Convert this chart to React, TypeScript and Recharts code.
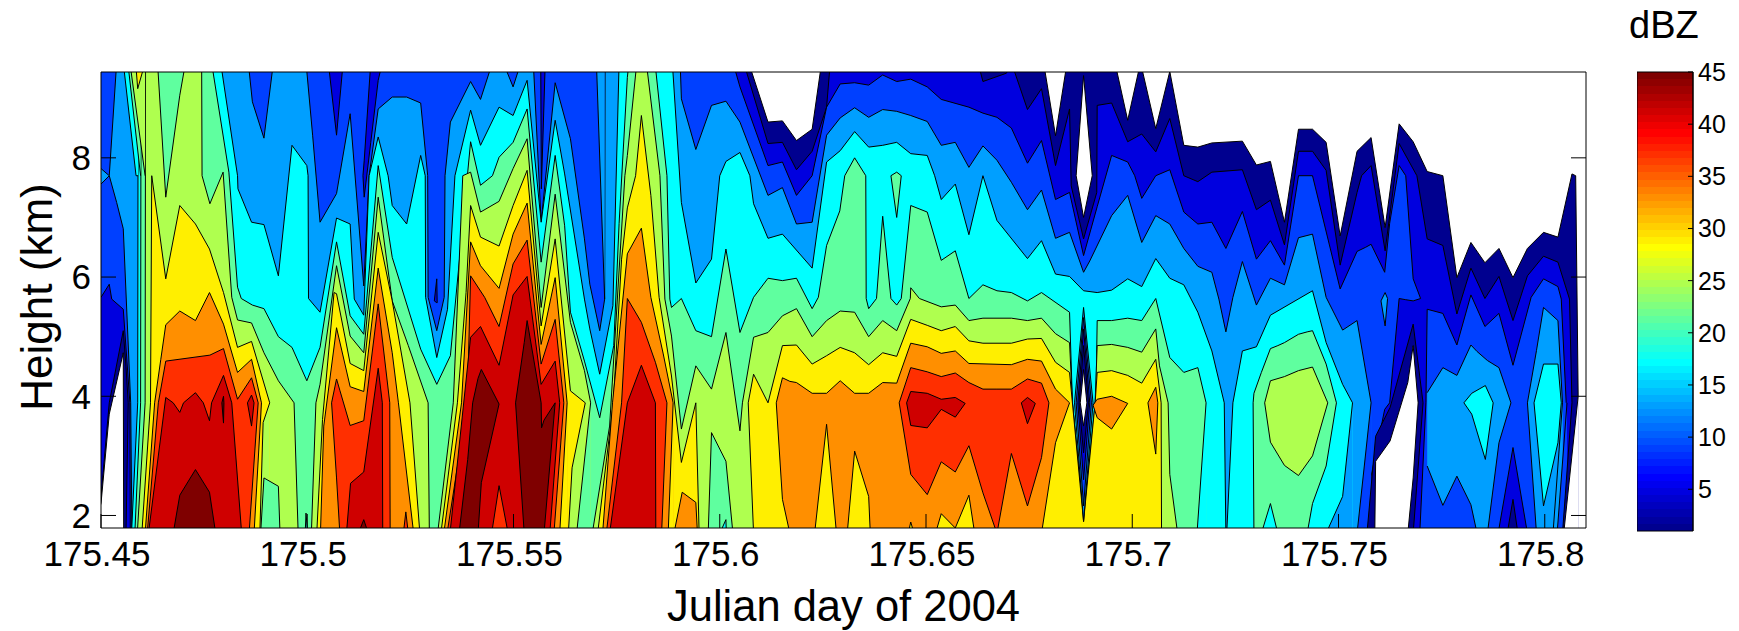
import { Area, Bar, BarChart, ComposedChart, Label, XAxis, YAxis } from "recharts";

// Reflectivity contour bands. Each node: [millidays after 175.45, top km, bottom km].
// Bottom defaults to below the axis. Painted low to high, then the "dips" high to low.
type Node = [number, number, number?];

const T = 9.6;
const B = 1.7;

const bandColors = ["#00008f", "#0000df", "#0040ff", "#009fff", "#00ffff", "#5fff9f", "#afff4f", "#ffef00", "#ff8f00", "#ff2f00", "#cf0000", "#7f0000"];
const noEcho = "#ffffff";

const xTicks = [175.45, 175.5, 175.55, 175.6, 175.65, 175.7, 175.75, 175.8];
const yTicks = [2, 4, 6, 8];
const dbzTicks = [5, 10, 15, 20, 25, 30, 35, 40, 45];
const colorbarRange = [{ name: "dBZ", range: [1, 45] }];

const jet = [
  "#00008f", "#00009f", "#0000af", "#0000bf", "#0000cf", "#0000df", "#0000ef", "#0000ff",
  "#000fff", "#001fff", "#002fff", "#003fff", "#004fff", "#005fff", "#006fff", "#007fff",
  "#008fff", "#009fff", "#00afff", "#00bfff", "#00cfff", "#00dfff", "#00efff", "#00ffff",
  "#0fffef", "#1fffdf", "#2fffcf", "#3fffbf", "#4fffaf", "#5fff9f", "#6fff8f", "#7fff7f",
  "#8fff6f", "#9fff5f", "#afff4f", "#bfff3f", "#cfff2f", "#dfff1f", "#efff0f", "#ffff00",
  "#ffef00", "#ffdf00", "#ffcf00", "#ffbf00", "#ffaf00", "#ff9f00", "#ff8f00", "#ff7f00",
  "#ff6f00", "#ff5f00", "#ff4f00", "#ff3f00", "#ff2f00", "#ff1f00", "#ff0f00", "#ff0000",
  "#ef0000", "#df0000", "#cf0000", "#bf0000", "#af0000", "#9f0000", "#8f0000", "#7f0000",
];

const l0Main: Node[] = [[-1.5, T], [157, T], [161.7, 8.6], [165.2, 8.62], [168.6, 8.29], [172.4, 8.48], [174.7, T], [228.5, T], [231.4, 8.37], [234.2, T], [245.8, T], [248.9, 8.63], [252, T], [255.7, 8.49], [259.1, 9.45], [262.5, 8.21], [265.9, 8.18], [269.3, 8.25], [276.7, 8.28], [280.1, 7.88], [283.5, 7.94], [286.9, 6.92], [290.3, 8.48], [293.7, 8.48], [297, 8.26], [300.4, 6.69], [304.5, 8.11], [307.9, 8.34], [311.3, 6.83], [314.7, 8.57], [318.1, 8.27], [321.5, 7.77], [325.3, 7.7], [328.7, 5.99], [332.1, 6.58], [335.5, 6.24], [338.9, 6.48], [342.3, 5.99], [345.8, 6.48], [349.7, 6.75], [353.2, 6.67], [356.6, 7.73], [357.5, 7.7], [358.1, 4.0]];

const l1Main: Node[] = [[-1.5, T], [155.8, T], [161.7, 8.24], [165.2, 8.26], [168.6, 7.8], [172.4, 8.11], [175.9, 8.85], [176.8, T], [212.6, T], [213.8, 9.28], [219.5, 9.42], [220.7, T], [224.6, 8.81], [228, 9.16], [231.4, 7.87], [234.8, 8.82], [235.2, 7.53], [238.2, 6.64], [241.4, 7.42], [241.5, 8.88], [245, 8.92], [248.9, 8.27], [252.3, 8.4], [255.7, 8.1], [259.1, 8.66], [262.5, 7.7], [265.9, 7.6], [269.3, 7.76], [276.7, 7.8], [280.1, 7.13], [283.5, 7.29], [286.9, 6.54], [290.3, 8.11], [293.7, 8.11], [297, 7.79], [300.4, 6.2], [304.5, 7.42], [305.6, 7.7], [307.9, 7.87], [311.3, 6.44], [314.7, 8.24], [319, 7.7], [321.5, 6.64], [325.3, 6.53], [328.7, 5.38], [332.1, 6.15], [335.5, 5.64], [338.9, 6.01], [342.3, 5.27], [345.8, 6.02], [349.7, 6.35], [353.2, 6.25], [356, 5.63], [356.6, 3.89]];

const l2Main: Node[] = [[-1.5, T, 5.66], [0, T, 5.66], [2, T, 5.88], [2.6, T, 5.63], [5.4, T, 5.46], [7, T, 3.89], [7.1, T], [153.2, T], [154.9, 9.19], [161.7, 7.87], [165.2, 7.93], [168.6, 7.37], [172.4, 7.7], [175.9, 8.85], [179.2, 9.24], [182.7, 9.26], [186.1, 9.22], [189.5, 9.39], [192.9, 9.28], [196.3, 9.32], [200.3, 9.19], [203.7, 8.98], [210.4, 8.85], [213.8, 8.75], [217.2, 8.68], [220.7, 8.5], [224.6, 7.91], [228, 8.29], [231.4, 7.3], [234.8, 7.42], [238.2, 6.36], [241.5, 7.18], [245, 8.04], [248.9, 7.93], [250.6, 7.7], [252.3, 7.32], [255.7, 7.7], [259.1, 7.8], [262.5, 7.09], [265.9, 6.89], [269.3, 6.92], [272.7, 6.48], [276.7, 7.1], [280.1, 6.3], [283.5, 6.61], [286.9, 6.2], [290.3, 7.7], [293.7, 7.7], [300.4, 5.8], [304.5, 6.43], [306.6, 6.5], [307.9, 6.55, 2.66], [311.2, 6.08, 3.78], [312.4, 6.9, 3.89], [314.7, 7.87, 5.64], [316.3, 7.7, 5.62], [318.1, 5.97, 5.6], [319.9, 5.64, 5.64]];
const l2Right: Node[] = [[319.7, B], [321.2, 3.9], [321.5, 5.46], [325.3, 5.39], [328.7, 4.86], [332.1, 5.7], [335.5, 5.17], [338.9, 5.39], [342.3, 4.52], [346.7, 5.66], [349.7, 5.97], [353.2, 5.84], [354, 5.63], [355.2, 3.89]];

const l3Corner: Node[] = [[-1.5, 7.75, 7.6], [0, 7.82, 7.56], [2, 7.7, 7.7]];
const l3Main: Node[] = [[2, 7.7, 7.7], [3.8, T, 7.25], [5.4, T, 6.81], [7.2, T, 3.89], [7.5, T], [35.7, T], [36.7, 8.94], [39.5, 8.33], [41.8, T], [49.7, T], [51.3, 8.38], [53.1, 6.92], [57.1, 7.4], [60.4, 8.74], [63.7, 5.85], [65, 7.7], [67.2, 8.82], [70.6, 9.02], [74.1, 9.02], [77.5, 8.92], [79.2, 7.7], [79.3, 5.66], [81.4, 5.1], [83.2, 5.66], [83.4, 7.7], [84.7, 8.6], [89.6, 9.28], [92, 8.98], [94.9, T], [97.5, T], [99.9, 9.19], [101.8, T], [104.8, T], [106.7, 6.92], [110.1, 9.26], [113.8, 8.32], [117.2, 6.64], [118.5, 5.88], [120.9, 5.1], [122.1, 5.63], [122.2, T], [140.4, T], [140.7, 8.99], [144.2, 8.14], [148, 8.88], [151.5, 8.95], [154.9, 8.6], [161.7, 7.37], [165.2, 7.5], [168.6, 6.89], [172.4, 6.92], [175.9, 8.38], [179.2, 8.67], [182.7, 8.84], [186.1, 8.68], [189.5, 8.81], [192.9, 8.78], [196.3, 8.71], [200.3, 8.61], [203.7, 8.21], [207.1, 8.26], [210.4, 7.84], [213.8, 8.2], [217.2, 7.96], [220.7, 7.59], [224.6, 7.13], [228, 7.46], [231.4, 6.65], [234.8, 6.75], [238.2, 6.08], [239.7, 6.27], [245, 7.03], [248.9, 7.37], [252.3, 6.58], [255.7, 7.03], [259.1, 6.89], [262.5, 6.48], [265.9, 6.18], [269.3, 6.08], [271, 5.63], [272.7, 5.08], [274.4, 5.66], [276.7, 6.26], [280.1, 5.53], [283.5, 5.98], [286.9, 5.87], [290.3, 6.66], [293.7, 6.72], [297, 5.66], [301, 5.11], [304.5, 5.27], [307.9, 3.89]];
const l3TopWedge: Node[] = [[120.1, T, T], [122.1, T, 5.63]];
const l3Speck: Node[] = [[310.3, 5.6, 5.6], [311.3, 5.74, 5.18], [311.9, 5.64, 5.64]];
const l3Island: Node[] = [[321.5, 4.06, 2.83], [325.3, 4.48, 2.17], [328.7, 4.35, 2.66], [332.1, 4.86, 2.18], [333.6, 4.75], [336.1, 4.6], [338.9, 4.48, 3.22], [341.8, 3.89, 3.89]];
const l3Right: Node[] = [[345.8, 3.89, 3.89], [348, 4.77], [349.7, 5.49], [353.2, 5.27], [354.3, 3.89]];

const l4Wedge: Node[] = [[5.4, T, T], [8.5, T, 7.7], [9, T, 7.7]];
const l4Main: Node[] = [[7.4, B], [8.9, 3.89], [9, T], [29, T], [33.1, 7.7], [33.2, 7.48], [36.5, 6.92], [39.5, 6.88], [43, 6.02], [46.3, 8.21], [49.9, 7.87], [50.2, 7.7], [50.3, 5.64], [53.1, 5.41], [57.1, 6.99], [60.4, 6.89], [61.4, 5.63], [63.7, 5.36], [65, 7.7], [67.2, 8.35], [69.6, 7.7], [70.6, 7.2], [74.1, 6.89], [77.5, 8.04], [78.6, 7.7], [78.7, 5.66], [81.4, 4.65], [84, 5.46], [85.8, 7.7], [89.6, 8.8], [92, 8.21], [96.5, 8.85], [99.9, 8.71], [103.3, 9.3], [106.7, 6.92], [110.1, 8.63], [112.4, 7.73], [117.2, 5.63], [118.5, 5.13], [120.9, 4.37], [124.1, 5.52], [125.6, T], [138.5, T], [140.7, 7.25], [144.2, 5.9], [148, 6.3], [150, 7.7], [151.5, 7.94], [154.9, 8.09], [157.3, 7.7], [158.2, 7.23], [161.7, 6.65], [165.2, 6.72], [172.4, 6.15], [175.9, 7.93], [179.2, 8.12], [182.7, 8.44], [186.1, 8.18], [189.5, 8.21], [192.9, 8.26], [196.3, 8.07], [200.3, 8.04], [202.1, 7.7], [203.7, 7.3], [207.1, 7.56], [210.4, 6.71], [213.8, 7.7], [217.2, 6.95], [224.6, 6.31], [228, 6.61], [231.4, 6.05], [234.8, 6.01], [238.2, 5.77], [241.5, 5.74], [245, 5.78], [248.9, 5.97], [252.3, 5.84], [255.7, 6.31], [259.1, 5.98], [262.5, 5.87], [265.9, 5.41], [269.3, 4.76], [272.3, 3.89], [272.7, B]];
const l4Right: Node[] = [[272.9, B], [274.4, 3.89], [276.7, 4.76], [280.1, 4.83], [283.5, 5.36], [293.7, 5.77], [297, 4.9], [301, 4.2], [303.4, 3.89]];
const l4Cone: Node[] = [[330.4, 3.89, 3.89], [332.3, 4.05, 3.7], [335.6, 4.18, 2.94], [337.5, 3.89, 3.89]];
const l4Spindle: Node[] = [[347.4, 3.89, 3.89], [349.7, 4.54, 2.16], [353.2, 4.54, 3.22], [354, 3.89, 3.89]];

const l5Wedge: Node[] = [[6.5, T, T], [9.6, T, 7.7]];
const l5Main: Node[] = [[8.2, B], [9.6, 3.89], [9.7, T], [26.8, T], [31, 7.76], [33.1, 5.83], [34, 5.64], [36.7, 5.53], [39.5, 5.47], [43, 5], [46.3, 4.82], [49.9, 4.26], [53.1, 4.82], [57.1, 6.59], [60.4, 5.35], [63.7, 5.04], [67.2, 7.87], [70.6, 6.33], [77.5, 4.79], [81.4, 4.2], [84.7, 4.68], [89.6, 8.27], [92, 7.54], [94.9, 7.7], [96.5, 8.01], [99.9, 8.26], [103.3, 8.82], [106.7, 6.25], [110.1, 8.04], [112.4, 6.86], [113.8, 5.41], [117.2, 4.59], [120.9, 3.64], [124.3, 4.85], [125.6, 6.9], [127.6, 9.35], [128, T], [134.3, T], [137.2, 7.7], [137.9, 5.63], [138.3, 5.49], [140.7, 5.64], [144.2, 5.1], [148, 5], [151.5, 6.47], [154.9, 5.07], [158.2, 5.66], [161.7, 5.98], [165.2, 5.94], [168.6, 5.98], [172.4, 5.47], [173.9, 5.66], [175.9, 6.53], [179.1, 7.11], [180.3, 7.7], [182.7, 8], [185.4, 7.7], [185.5, 5.64], [186.1, 5.47], [188, 5.64], [189.5, 7.02], [191.5, 5.64], [192.9, 5.53], [194, 5.64], [196.3, 7.2], [200.3, 7.09], [203.7, 6.28], [207.1, 6.44], [210.4, 5.64], [213.8, 5.87], [217.2, 5.77], [220.7, 5.74], [224.6, 5.6], [228, 5.74], [234.8, 5.41], [235.5, 3.89], [238.2, 1.9], [241.2, 3.89], [241.5, 5.27], [245, 5.27], [248.9, 5.31], [252.3, 5.27], [255.7, 5.64], [259.1, 4.65], [262.5, 4.4], [265.9, 4.48], [267.9, 3.89]];
const l5Speck: Node[] = [[191.5, 7.7, 7.7], [192.9, 7.76, 7], [194, 7.7, 7.7]];
const l5Island: Node[] = [[279.3, 3.89, 3.89], [279.5, 4.05], [281.3, 4.4], [283.5, 4.8, 2.2], [285.3, 4.85], [286.9, 4.9], [290.3, 5.04], [292.4, 5.08], [293.7, 5.1, 2.2], [297, 4.54, 2.83], [299.5, 3.89, 3.89]];

const l6Wedge: Node[] = [[7, T, T], [10.7, T, 7.7]];
const l6Left: Node[] = [[8.8, B], [10.7, 3.89], [10.8, T], [13.7, T], [15.7, 7.34], [19.1, 9.05], [20.5, T], [24.4, T], [24.5, 7.7], [26.4, 7.23], [29.6, 7.76], [31.7, 5.66], [33.1, 5.28], [36.5, 5.23], [39.5, 4.73], [43, 4.26], [46.8, 3.89], [47.8, B]];
const l6Second: Node[] = [[51, B], [52.1, 3.89], [53.1, 4.2], [57.1, 6.19], [60.4, 5.01], [63.7, 4.73], [67.2, 7.34], [70.6, 5.6], [74.5, 4.85], [79.3, 3.89], [79.6, B]];
const l6Third: Node[] = [[81.6, B], [85.4, 3.89], [87.7, 7.7], [89.6, 7.76], [92, 7.09], [96.5, 7.27], [99.9, 7.82], [103.3, 8.32], [106.7, 5.49], [110.1, 7.39], [113.8, 5.24], [117.2, 4.43], [118.7, 3.89]];
const l6Fourth: Node[] = [[119.1, B], [123.3, 3.5], [127, 7.7], [127.6, 8.04], [129.9, T], [132.2, T], [135.5, 7.7], [136.7, 5.63], [138.3, 5.01], [140.7, 3.45], [144.2, 4.51], [148, 4.12], [151.5, 5.07], [154.9, 3.42], [155.5, 3.89], [158.2, 4.99], [161.7, 5.07], [165.2, 5.35], [168.6, 5.47], [172.4, 5], [175.9, 5.27], [179.2, 5.43], [182.7, 5.41], [186.1, 5], [189.5, 5.27], [192.9, 5.1], [196.2, 5.64], [196.3, 5.82], [198.4, 5.64], [203.7, 5.5], [207.1, 5.53], [210.4, 5.27], [213.8, 5.31], [220.7, 5.31], [224.6, 5.27], [228, 5.31], [231.4, 5.05], [234.8, 4.9], [235.5, 3.89], [238.2, 1.9], [241, 3.89], [241.5, 4.85], [245, 4.87], [248.9, 4.82], [252.3, 4.74], [255.7, 5.13], [256.6, 4.51], [258.7, 3.89], [259.1, 2.69], [261, B]];
const l6Oval: Node[] = [[282.1, 3.89, 3.89], [283.5, 4.26, 3.23], [286.9, 4.33, 2.84], [290.3, 4.43, 2.67], [293.7, 4.49, 3], [297.4, 3.89, 3.89]];

const l7Cap: Node[] = [[8.4, T, T], [8.9, T, 9.16], [10.7, T, T]];
const l7First: Node[] = [[9.9, B], [12, 3.89], [12.3, 7.7], [15.7, 5.97], [19.1, 7.2], [22.9, 6.89], [26.3, 6.47], [29.7, 5.74], [33.1, 4.82], [36.5, 4.92], [40.9, 3.89]];
const l7Second: Node[] = [[52.3, B], [53.7, 3.61], [56.5, 5.74], [57.1, 5.72], [60.4, 4.55], [63.7, 4.43], [67.2, 6.75], [70.6, 5.6], [74.9, 3.89], [77.3, B]];
const l7Third: Node[] = [[82.4, B], [86.4, 3.89], [88.5, 5.74], [89.6, 7.2], [92, 6.67], [96.5, 6.52], [99.9, 7.2], [103.3, 7.79], [106.7, 5.18], [110.1, 6.64], [113.8, 4.09], [117.4, 3.89]];
const l7Fourth: Node[] = [[120.4, B], [124.2, 3.89], [126.2, 6.3], [127.6, 7.16], [129.6, 7.7], [131, 8.71], [133.3, 7.37], [135.3, 5.66], [138.3, 4.34], [140.7, 2.89], [144.2, 3.89], [145, B]];
const l7Fifth: Node[] = [[156.9, 3.89, 3.89], [158.2, 4.37], [161.7, 3.89], [165.2, 4.85], [168.6, 4.86], [172.4, 4.54], [175.9, 4.68], [179.2, 4.82], [182.7, 4.73], [186.1, 4.53], [189.5, 4.73], [192.9, 4.67], [196.3, 5.29], [200.3, 5.19], [203.7, 5.1], [207.1, 5.17], [210.4, 4.93], [213.8, 4.89], [220.7, 4.89], [224.6, 4.96], [228, 4.97], [231.4, 4.57], [234.8, 4.4], [238.2, 1.9], [241, 3.89], [241.5, 4.4], [245, 4.43], [248.9, 4.35], [252.3, 4.22], [255.7, 4.62], [257, 3.89], [257.1, B]];

const l8First: Node[] = [[10.7, B], [13, 3.89], [14.5, 4.62], [15.7, 5.2], [19.1, 5.43], [22.9, 5.27], [26.3, 5.74], [29.7, 5.21], [33.1, 4.4], [36.5, 4.62], [38.9, 3.89]];
const l8Second: Node[] = [[53.2, B], [54, 3.5], [57.1, 5.15], [60.4, 4.16], [63.7, 4.08], [67.2, 6.15], [70.6, 4.73], [72.1, 3.89], [75.8, B]];
const l8Third: Node[] = [[83.1, B], [87.4, 3.89], [89.6, 6.59], [92, 6.19], [96.5, 5.81], [99.9, 6.72], [103.3, 7.24], [106.7, 4.87], [110.1, 5.99], [113, 3.89]];
const l8Fourth: Node[] = [[121.6, B], [124, 3.89], [127.6, 6.39], [131, 6.82], [133.3, 5.66], [136.3, 4.71], [138.7, 3.89]];
const l8Lobe: Node[] = [[138.9, B], [140.9, 2.39], [144.2, 2.22], [144.6, B]];
const l8Wide: Node[] = [[163.7, 3.89, 3.89], [165.2, 4.31, 2.27], [167, 4.25], [168.6, 4.23], [172.4, 4.05], [175.9, 4.05], [179.2, 4.26], [182.7, 4.05], [186.1, 4.05], [189.5, 4.23], [192.9, 4.22], [196.3, 4.89], [200.3, 4.83], [203.7, 4.72], [207.1, 4.76], [210.4, 4.55], [220.7, 4.53], [224.6, 4.62], [228, 4.59], [231.4, 4.12, 3.22], [234.8, 3.89, 3.89]];
const l8Kite: Node[] = [[240.5, 3.85, 3.85], [241.5, 3.95, 3.64], [245, 4.0, 3.45], [248.9, 3.88, 3.88]];
const l8Sliver: Node[] = [[253.8, 3.89, 3.89], [255.7, 4.15, 3.03], [256.2, 3.89, 3.89]];

const l9First: Node[] = [[11.2, B], [13.9, 3.89], [15.7, 4.59], [26.4, 4.69], [29.7, 4.8], [33.1, 3.95], [36.5, 4.31], [38.1, 3.89]];
const l9Second: Node[] = [[55.9, 3.89, 3.89], [57.1, 4.29, 2.63], [57.9, 4.1], [60.4, 3.51], [63.7, 3.59], [67.2, 5.55], [70, 3.89], [70.1, B]];
const l9Tip: Node[] = [[73.3, B], [73.9, 2.06], [74.5, B]];
const l9Third: Node[] = [[83.9, B], [88.8, 3.89], [89.6, 6.02], [93, 5.66], [96.5, 5.17], [99.9, 6.22], [103.3, 6.62], [106.7, 4.54], [110.1, 5.29], [112.2, 3.89]];
const l9Fourth: Node[] = [[122.5, B], [126.2, 3.89], [127.6, 5.64], [131, 5.24], [134.4, 4.57], [137.2, 3.89]];
const l9Blob: Node[] = [[193.5, 3.89, 3.89], [196.3, 4.48, 2.69], [200.3, 4.41, 2.35], [203.7, 4.33, 2.9], [207.1, 4.39, 2.73], [210.4, 4.23, 3.17], [213.8, 4.12, 2.38], [217.2, 4.12, B], [220.7, 4.12, 3.04], [224.6, 4.29, 2.16], [228, 4.22, 2.97], [229.8, 3.89, 3.89]];

const l10First: Node[] = [[11.5, B], [15.7, 3.98], [17.5, 3.89], [19.1, 3.73], [20, 3.89], [22.9, 4.06], [24.8, 3.89], [26.3, 3.59], [26.8, 3.89], [29.7, 4.35], [31.7, 3.89], [34.1, B]];
const l10Speck: Node[] = [[35.5, 3.89, 3.89], [36.5, 4.02, 3.5], [37.1, 3.89, 3.89]];
const l10Second: Node[] = [[59.5, B], [60.5, 2.54], [63.7, 2.73], [67.2, 4.47], [68.2, 3.89], [68.3, B]];
const l10Third: Node[] = [[84.6, B], [89.6, 4.99], [92, 5.17], [96.5, 4.52], [99.9, 5.7], [103.3, 6.01], [106.7, 4.2], [110.1, 4.59], [111.2, 3.89]];
const l10Fourth: Node[] = [[123.3, B], [127.6, 3.89], [131, 4.52], [134.4, 3.89], [134.5, B]];
const l10Cells: Node[] = [[195.3, 3.89, 3.89], [196.3, 4.08, 3.51], [200.3, 4.05, 3.47], [203.7, 3.95, 3.78], [207.1, 3.98, 3.65], [209.5, 3.88, 3.88]];
const l10Cell: Node[] = [[223.1, 3.89, 3.89], [224.6, 3.98, 3.54], [226.5, 3.88, 3.88]];

const l11First: Node[] = [[17.5, B], [19.1, 2.34], [22.9, 2.77], [26.3, 2.39], [27.8, B]];
const l11Speck: Node[] = [[29.3, 3.89, 3.89], [29.7, 4, 3.55], [29.8, 3.89, 3.89]];
const l11Tip: Node[] = [[62.4, B], [63.7, 1.93], [64.8, B]];
const l11Lobe: Node[] = [[86.8, B], [88.9, 2.94], [90.1, 3.89], [91.4, 4.3], [92.2, 4.45, 2.55], [96.5, 3.87, 3.87]];
const l11Core: Node[] = [[100.5, 3.89, 3.89], [102.6, 4.9], [103.3, 5.27], [106.7, 3.89], [106.8, 3.47], [107.4, 3.6], [110.1, 3.89, 3.89]];

// dips cut back into the bands above, painted after them
const dipRed: Node[] = [[94.7, B], [96.5, 2.5], [98.7, B]];
const dipOrange1: Node[] = [[35.9, B], [38.1, 3.89]];
const dipOrange2: Node[] = [[109.8, B], [112.2, 3.89]];
const dipOrange3: Node[] = [[135.9, B], [137.2, 3.89]];
const dipRed2: Node[] = [[108.8, B], [111.2, 3.89]];
const dipYellow1: Node[] = [[37.1, B], [38.9, 3.89]];
const dipYellow2: Node[] = [[111.2, B], [113, 3.89]];
const dipYellow3: Node[] = [[137.5, B], [138.7, 3.89]];
const dipYellow4: Node[] = [[173, B], [175.9, 3.53], [178.3, B]];
const dipYellow5: Node[] = [[180.9, B], [182.7, 3.08], [186.1, 2.32], [186.5, B]];
const dipYellow6: Node[] = [[195.7, B], [196.3, 1.89], [197.1, B]];
const dipYellow7: Node[] = [[202.3, B], [203.7, 2.03], [207.1, 1.79], [210.4, 2.34], [211.8, B]];
const dipLime1: Node[] = [[38.5, B], [39.3, 3.56], [40.9, 3.89]];
const dipLime2: Node[] = [[113.3, B], [114.2, 2.8], [117.4, 3.89]];
const dipGreen1: Node[] = [[38.7, B], [39.5, 2.63], [43, 2.49], [43.4, B]];
const dipGreen2: Node[] = [[115.3, B], [118.7, 3.89]];
const dipGreen3: Node[] = [[147.2, B], [148, 3.39], [151.5, 2.91], [153.2, B]];
const dipCyan1: Node[] = [[49.5, B], [49.7, 2.04], [50.1, B]];
const dipCyan2: Node[] = [[150, B], [151.5, 1.93], [151.6, B]];
const dipCyan3: Node[] = [[265.7, B], [267.9, 3.89]];
const dipSky1: Node[] = [[236, 3.89, 3.89], [238.2, 5.49, 1.9], [240.5, 3.89, 3.89]];
const dipSky2: Node[] = [[297, B], [301, 2.32], [303.4, 3.89]];
const dipSky3: Node[] = [[352, B], [354.3, 3.89]];
const dipBlue1: Node[] = [[236.4, 3.89, 3.89], [238.2, 5.32, 2.16], [240.1, 3.89, 3.89]];
const dipBlue2: Node[] = [[304.5, B], [307.9, 3.89]];
const dipBlue3: Node[] = [[353, B], [355.4, 3.89]];
const dipBlue4: Node[] = [[338.7, B], [342.3, 3.14], [345.8, B]];
const hangBlue1: Node[] = [[55.1, T, T], [57.1, T, 8.38], [58.7, T, T]];
const hangBlue2: Node[] = [[63.5, 7.7, 7.7], [63.8, 7.95, 7.34], [65.4, T, 8.26], [67.2, T, 9.3], [68.2, T, T]];
const hangBlue3: Node[] = [[106.6, T, T], [106.75, T, 7.48], [107.7, T, T]];
const hangBlue4: Node[] = [[80.8, 5.6, 5.6], [81.4, 5.97, 5.57], [81.5, 5.57, 5.57]];
const dipNavy1: Node[] = [[-1.5, 2.2], [0, 2.32], [2, 3.89], [5.4, 5.1], [6.06, 4.5], [6.6, 3.89, 3.89]];
const dipNavy2: Node[] = [[306.9, B], [309, 3.33], [312.5, 3.81], [318.1, 5.21], [320.5, 3.89, 3.89]];
const dipNavy3: Node[] = [[237.1, 3.89, 3.89], [238.2, 4.85, 3.05], [239.4, 3.89, 3.89]];
const dipNavy4: Node[] = [[340.9, B], [342.3, 2.27], [343.5, B]];
const dipNavy5: Node[] = [[354.3, B], [356.6, 3.89]];
const dipNavy6: Node[] = [[236.8, 3.89, 3.89], [238.2, 5.13, 2.6], [239.7, 3.89, 3.89]];
const gapLeft: Node[] = [[-1.5, 1.9], [0, 2.2], [2, 3.7], [5.4, 4.73], [5.5, B]];
const gapMiddle: Node[] = [[308.8, B], [309, 2.91], [312.5, 3.25], [316.8, 4.23], [318.1, 4.85, 2.63], [319.3, 3.89, 3.89]];
const gapSpindleTop: Node[] = [[236.4, 7.7, 7.7], [238.2, 9.38, 7], [240.3, 7.7, 7.7]];
const gapSpindleLow: Node[] = [[237.4, 3.89, 3.89], [238.2, 4.45, 3.5], [239, 3.89, 3.89]];
const gapRight: Node[] = [[354.6, B], [358.1, 4.0]];

const layers: [string, Node[]][] = [
  [bandColors[0], l0Main],
  [bandColors[1], l1Main],
  [bandColors[2], l2Main], [bandColors[2], l2Right],
  [bandColors[3], l3Main], [bandColors[3], l3Corner], [bandColors[3], l3TopWedge], [bandColors[3], l3Speck], [bandColors[3], l3Island], [bandColors[3], l3Right],
  [bandColors[4], l4Main], [bandColors[4], l4Wedge], [bandColors[4], l4Right], [bandColors[4], l4Cone], [bandColors[4], l4Spindle],
  [bandColors[5], l5Main], [bandColors[5], l5Wedge], [bandColors[5], l5Speck], [bandColors[5], l5Island],
  [bandColors[6], l6Left], [bandColors[6], l6Wedge], [bandColors[6], l6Second], [bandColors[6], l6Third], [bandColors[6], l6Fourth], [bandColors[6], l6Oval],
  [bandColors[7], l7First], [bandColors[7], l7Cap], [bandColors[7], l7Second], [bandColors[7], l7Third], [bandColors[7], l7Fourth], [bandColors[7], l7Fifth],
  [bandColors[8], l8First], [bandColors[8], l8Second], [bandColors[8], l8Third], [bandColors[8], l8Fourth], [bandColors[8], l8Lobe], [bandColors[8], l8Wide], [bandColors[8], l8Kite], [bandColors[8], l8Sliver],
  [bandColors[9], l9First], [bandColors[9], l9Second], [bandColors[9], l9Tip], [bandColors[9], l9Third], [bandColors[9], l9Fourth], [bandColors[9], l9Blob],
  [bandColors[10], l10First], [bandColors[10], l10Speck], [bandColors[10], l10Second], [bandColors[10], l10Third], [bandColors[10], l10Fourth], [bandColors[10], l10Cells], [bandColors[10], l10Cell],
  [bandColors[11], l11First], [bandColors[11], l11Speck], [bandColors[11], l11Tip], [bandColors[11], l11Lobe], [bandColors[11], l11Core],
  [bandColors[9], dipRed], [bandColors[9], dipRed2],
  [bandColors[8], dipOrange1], [bandColors[8], dipOrange2], [bandColors[8], dipOrange3],
  [bandColors[7], dipYellow1], [bandColors[7], dipYellow2], [bandColors[7], dipYellow3], [bandColors[7], dipYellow4], [bandColors[7], dipYellow5], [bandColors[7], dipYellow6], [bandColors[7], dipYellow7],
  [bandColors[6], dipLime1], [bandColors[6], dipLime2],
  [bandColors[5], dipGreen1], [bandColors[5], dipGreen2], [bandColors[5], dipGreen3],
  [bandColors[4], dipCyan1], [bandColors[4], dipCyan2], [bandColors[4], dipCyan3],
  [bandColors[3], dipSky1], [bandColors[3], dipSky2], [bandColors[3], dipSky3],
  [bandColors[2], dipBlue1], [bandColors[2], dipBlue2], [bandColors[2], dipBlue3],
  [bandColors[1], dipBlue4], [bandColors[1], hangBlue1], [bandColors[1], hangBlue2], [bandColors[1], hangBlue3], [bandColors[1], hangBlue4], [bandColors[1], dipNavy6],
  [bandColors[0], dipNavy1], [bandColors[0], dipNavy2], [bandColors[0], dipNavy3], [bandColors[0], dipNavy4], [bandColors[0], dipNavy5],
  [noEcho, gapLeft], [noEcho, gapMiddle], [noEcho, gapSpindleTop], [noEcho, gapSpindleLow], [noEcho, gapRight],
];

const toRows = (nodes: Node[]) =>
  nodes.map(([n, hi, lo]) => ({ day: 175.45 + n / 1000, band: [lo ?? B, hi] }));

const font = '"Liberation Sans", Arial, sans-serif';
const domainX: [number, number] = [175.45, 175.81];
const domainY: [number, number] = [1.79, 9.44];
const noLabel = () => <g />;

function ContourChart() {
  return (
    <ComposedChart width={1739} height={631} margin={{ top: 0, right: 0, bottom: 0, left: 0 }}>
      {layers.map(([color, nodes], i) => (
        <Area
          key={i}
          data={toRows(nodes)}
          dataKey="band"
          type="linear"
          fill={color}
          fillOpacity={1}
          stroke="#000"
          strokeWidth={1}
          dot={false}
          activeDot={false}
          isAnimationActive={false}
        />
      ))}
      <XAxis
        dataKey="day"
        type="number"
        domain={domainX}
        allowDataOverflow
        ticks={xTicks}
        interval={0}
        height={103}
        tickSize={-14}
        tickMargin={27}
        tickFormatter={(v: number) => String(Number(v.toFixed(2)))}
        tick={{ fill: "#000", fontFamily: font, fontSize: 35, dx: -4 }}
        stroke="#000"
      >
        <Label value="Julian day of 2004" position="insideBottom" offset={10} fill="#000" fontFamily={font} fontSize={43.5} />
      </XAxis>
      <XAxis xAxisId="top" orientation="top" type="number" domain={domainX} allowDataOverflow ticks={xTicks} interval={0} height={72} tickSize={-14} tick={noLabel} stroke="#000" />
      <YAxis
        type="number"
        domain={domainY}
        allowDataOverflow
        ticks={yTicks}
        interval={0}
        width={101}
        tickSize={-15}
        tickMargin={25}
        tick={{ fill: "#000", fontFamily: font, fontSize: 35 }}
        stroke="#000"
      >
        <Label value="Height (km)" angle={-90} position="insideLeft" offset={36} dy={-3} fill="#000" fontFamily={font} fontSize={44} style={{ textAnchor: "middle" }} />
      </YAxis>
      <YAxis yAxisId="right" orientation="right" type="number" domain={domainY} allowDataOverflow ticks={yTicks} interval={0} width={153} tickSize={-15} tick={noLabel} stroke="#000" />
    </ComposedChart>
  );
}

function Colorbar() {
  return (
    <BarChart width={100} height={489} data={colorbarRange} margin={{ top: 15, right: 0, bottom: 15, left: 0 }} barCategoryGap={0}>
      <defs>
        <linearGradient id="jet-steps" x1="0" y1="1" x2="0" y2="0">
          {jet.flatMap((c, i) => [
            <stop key={`${i}a`} offset={`${(i / jet.length) * 100}%`} stopColor={c} />,
            <stop key={`${i}b`} offset={`${((i + 1) / jet.length) * 100}%`} stopColor={c} />,
          ])}
        </linearGradient>
      </defs>
      <Bar dataKey="range" fill="url(#jet-steps)" stroke="#000" isAnimationActive={false} />
      <XAxis dataKey="name" hide />
      <YAxis yAxisId="left" orientation="left" domain={[1, 45]} ticks={dbzTicks} interval={0} width={0} tickSize={-5} tick={noLabel} stroke="#000" />
      <YAxis
        orientation="right"
        domain={[1, 45]}
        ticks={dbzTicks}
        interval={0}
        width={44}
        tickSize={-5}
        tickMargin={10}
        tick={{ fill: "#000", fontFamily: font, fontSize: 25, textAnchor: "start" }}
        stroke="#000"
      />
    </BarChart>
  );
}

export default function App() {
  return (
    <div style={{ position: "absolute", left: 0, top: 0, width: 1739, height: 631, background: "#fff" }}>
      <ContourChart />
      <div style={{ position: "absolute", left: 1637, top: 57 }}>
        <Colorbar />
      </div>
      <div style={{ position: "absolute", left: 1629, top: 4, fontFamily: font, fontSize: 38, color: "#000" }}>dBZ</div>
    </div>
  );
}
